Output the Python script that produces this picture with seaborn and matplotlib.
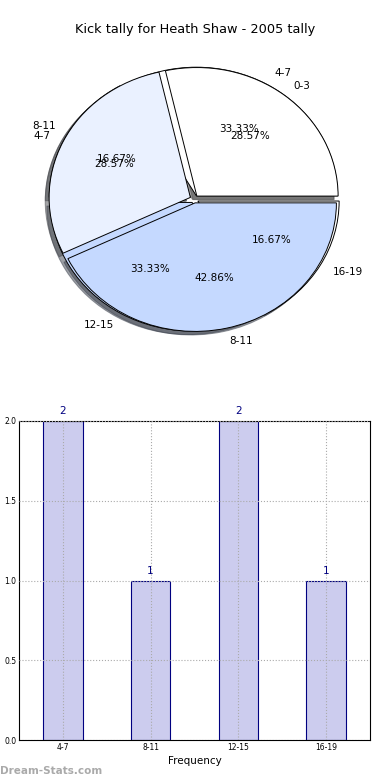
import numpy as np
import matplotlib
matplotlib.use('Agg')
import matplotlib.pyplot as plt
import seaborn as sns

# pie data (two tallies drawn on top of each other)
pie_b_labels = ['4-7', '8-11', '12-15', '16-19']
pie_b_values = [2, 1, 2, 1]
pie_a_labels = ['0-3', '4-7', '8-11']
pie_a_values = [2, 2, 3]

# bar data
bar_labels = ['4-7', '8-11', '12-15', '16-19']
bar_values = [2, 1, 2, 1]

pie_colors = ['#ffffff', '#eaf1ff', '#c5d9ff']

sns.set_style('white')
plt.rcParams['font.family'] = ['DejaVu Sans']
plt.rcParams['text.color'] = 'black'
plt.rcParams['xtick.color'] = 'black'
plt.rcParams['ytick.color'] = 'black'
plt.rcParams['axes.labelcolor'] = 'black'

fig = plt.figure(figsize=(3.9, 7.8), dpi=100)

# ---- pie ----
ax1 = fig.add_axes([4.2 / 390, 1 - 372 / 780, 380 / 390, 345.8 / 780])
for labels, values in [(pie_b_labels, pie_b_values), (pie_a_labels, pie_a_values)]:
    wedges, texts, autotexts = ax1.pie(
        values, labels=labels, colors=pie_colors, autopct='%.2f%%',
        explode=[0.03] * len(values), shadow=True,
        wedgeprops={'edgecolor': 'black', 'linewidth': 0.7},
        textprops={'fontsize': 7.5})
ax1.set_aspect('auto')
ax1.set_xlim(-1.345, 1.345)
ax1.set_ylim(-1.345, 1.345)
ax1.axis('off')
fig.text(0.5, 1 - 30 / 780, 'Kick tally for Heath Shaw - 2005 tally',
         ha='center', va='center', fontsize=9.3)

# ---- bars ----
ax2 = fig.add_axes([19 / 390, 40 / 780, 351 / 390, 319 / 780])
sns.barplot(x=bar_labels, y=bar_values, color='#ccccee', edgecolor='navy',
            linewidth=0.8, width=0.45, saturation=1, ax=ax2)
ax2.set_ylim(0, 2)
ax2.set_xlim(-0.5, 3.5)
ax2.set_yticks([0.0, 0.5, 1.0, 1.5, 2.0])
ax2.set_yticklabels(['0.0', '0.5', '1.0', '1.5', '2.0'])
ax2.tick_params(axis='both', labelsize=5.5, direction='in', length=3, pad=2)
ax2.grid(True, linestyle=':', color='#aaaaaa', linewidth=0.8)
ax2.set_axisbelow(False)
for s in ax2.spines.values():
    s.set_color('black')
    s.set_linewidth(0.8)
for i, v in enumerate(bar_values):
    ax2.text(i, v + 0.03, str(v), ha='center', va='bottom', color='navy', fontsize=7.5)
ax2.set_xlabel('Frequency', fontsize=7.5, labelpad=3)
ax2.set_ylabel('')

fig.text(0.0, 1 - 771 / 780, 'Dream-Stats.com', ha='left', va='center',
         fontsize=7.5, color='#aaaaaa', fontweight='bold')

fig.savefig('out.png', dpi=100)
